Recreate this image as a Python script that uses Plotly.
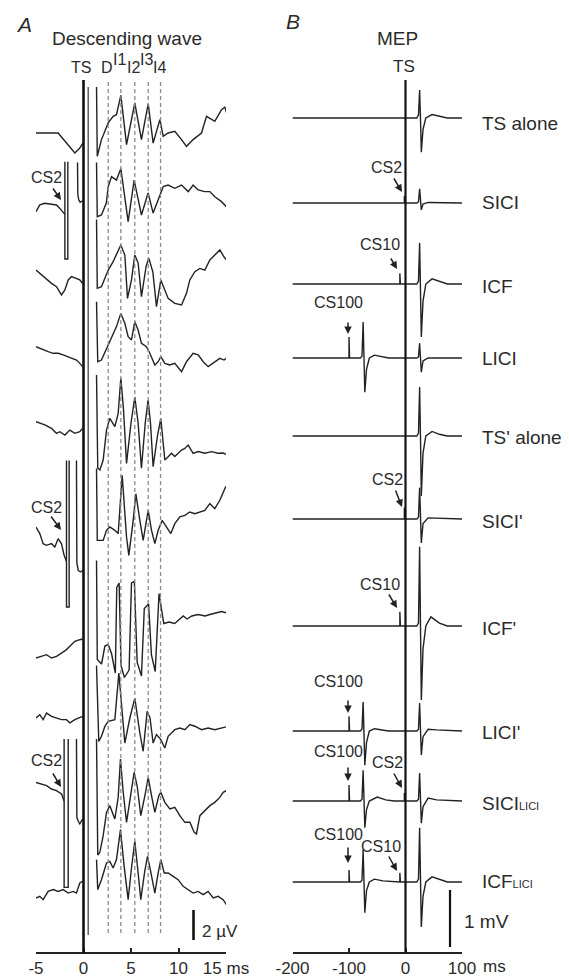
import plotly.graph_objects as go

W, H = 569, 978
OFF = 8          # the page body adds an 8 px margin; layout positions below are page pixels
FONT = "Liberation Sans, Arial, sans-serif"
INK = "#222222"
TXT = "#2b2b2b"

# ---------------- Panel A: descending waves (time in ms, amplitude in µV) ----------------
A1_t = [-5.0, -2.67, -0.91, -0.39, -0.07, None,
        1.37, 1.45, 1.89, 2.6, 3.12, 3.47, 3.93, 4.53, 5.4, 6.1, 6.81, 7.33, 8.04, 8.39, 8.91,
        9.61, 10.32, 10.84, 11.54, 12.42, 12.95, 13.82, 14.53, 14.88, 15.2]
A1_v = [0, 0, -1.33, -1.0, -0.67, None,
        3.07, -1.55, -0.44, 0.67, 1.11, 1.22, 2.51, -0.78, 2.0, -0.44, 1.96, -0.67, 0.89, -0.22, 0,
        0.11, -0.44, -0.89, -0.44, 0, 1.11, 0.78, 1.56, 1.73, 1.07]

A2_t = [-5.0, -4.6, -4.07, -3.37, -2.84, -2.49, -2.14, -1.96, None,
        -1.96, -1.96, -1.65, -1.65, None,
        -0.63, -0.6, -0.5, -0.35, -0.1, None,
        1.37, 1.45, 1.89, 2.4, 2.6, 2.95, 3.47, 3.93, 4.7, 5.33, 6.1, 6.8, 7.33, 7.86, 8.39, 8.91,
        9.61, 10.32, 11.02, 11.54, 12.07, 12.77, 13.3, 13.82, 14.53, 15.2]
A2_v = [0.02, 0.47, 0.58, 0.53, 0.47, 0.24, -0.04, -0.16, None,
        3.35, -3.13, -3.13, 3.35, None,
        3.3, 1.2, 0.8, 0.65, 0.75, None,
        3.3, -0.31, -0.2, 0.6, 1.69, 2.36, 2.13, 2.9, -0.64, 2.13, -0.2, 1.27, -0.07, 0.8, 1.69, 1.8,
        1.58, 1.8, 1.36, 1.8, 1.47, 1.36, 1.36, 1.02, 0.69, 0.24]

A3_t = [-5.0, -4.42, -3.89, -3.37, -2.84, -2.32, -1.96, -1.61, -1.26, -0.91, -0.39, -0.1, None,
        1.37, 1.45, 1.89, 2.6, 3.12, 3.65, 3.93, 4.35, 4.63, 5.05, 5.4, 5.75, 6.1, 6.6, 6.88, 7.3,
        7.68, 8.14, 8.56, 8.91, 9.61, 10.32, 10.84, 11.19, 11.72, 12.25, 12.77, 13.3, 13.82,
        14.35, 14.8, 15.2]
A3_v = [0.13, -0.2, -0.53, -0.76, -0.98, -1.53, -1.2, -0.53, -0.31, -0.42, -0.53, -0.76, None,
        3.5, -1.09, -0.98, 0.13, 0.69, 1.36, 1.8, 1.13, -1.76, -0.53, 1.13, 0.6, -1.64, 0.4, 0.91, 0.0,
        -2.31, -0.53, -1.2, -1.76, -2.09, -2.2, -1.42, -0.53, 0.02, 0.24, 0.13, 0.8, 1.13,
        1.47, 1.0, 0.69]

A4_t = [-5.0, -4.6, -4.25, -3.72, -3.19, -2.67, -2.14, -1.61, -1.09, -0.74, -0.39, -0.1, None,
        1.37, 1.5, 1.89, 2.42, 2.95, 3.47, 3.93, 4.35, 4.7, 5.05, 5.4, 5.75, 6.1, 6.63, 6.98, 7.51,
        7.86, 8.14, 8.56, 9.09, 9.61, 10.32, 10.84, 11.54, 12.07, 12.6, 13.12, 13.82, 14.35, 14.8, 15.2]
A4_v = [0.02, -0.09, -0.2, -0.31, -0.42, -0.42, -0.53, -0.64, -0.76, -0.87, -1.09, -1.31, None,
        3.02, -0.98, -0.87, -0.09, 0.69, 1.36, 2.24, 1.58, 0.69, 0.47, 1.69, 1.13, 0.24, 0.02, -0.42, -1.2,
        -0.98, -0.64, -1.09, -1.2, -1.09, -1.64, -0.98, -0.42, -0.53, -0.98, -1.31, -0.98, -0.76, -0.87, -0.64]

A5_t = [-5.0, -4.07, -3.37, -2.84, -2.49, -1.96, -1.44, -0.91, -0.39, -0.1, None,
        1.37, 1.5, 1.72, 2.07, 2.42, 2.77, 3.3, 3.65, 3.93, 4.2, 4.53, 5.0, 5.4, 5.75, 6.1, 6.5, 6.8,
        7.05, 7.33, 7.8, 8.14, 8.56, 8.91, 9.26, 9.61, 10.32, 10.67, 11.02, 11.54, 12.07, 12.77,
        13.47, 14.17, 14.7, 15.2]
A5_v = [0.09, -0.13, -0.36, -0.69, -0.58, -0.8, -0.47, -0.69, -0.58, -0.36, None,
        3.2, -3.0, -3.13, -2.47, -0.47, 0.31, -0.24, 0.64, 3.0, 1.0, -2.69, 0.0, 1.73, 0.0, -3.02, 0.0, 1.53,
        0.0, -2.91, -0.8, 0.3, -2.47, -2.25, -2.02, -2.24, -1.8, -1.7, -1.47, -2.02, -1.9, -2.02,
        -1.91, -2.02, -2.0, -2.13]

A6_t = [-5.0, -4.6, -4.25, -3.89, -3.37, -3.02, -2.67, -2.32, -2.04, -1.79, None,
        -1.79, -1.79, -1.51, -1.51, None,
        -0.74, -0.7, -0.55, -0.3, -0.1, None,
        1.37, 1.45, 2.07, 2.42, 2.77, 3.3, 3.65, 4.07, 4.53, 4.77, 5.23, 5.51, 5.93, 6.28, 6.81, 7.16,
        7.51, 7.86, 8.28, 8.74, 9.19, 9.61, 10.14, 10.67, 11.19, 11.72, 12.25, 12.77, 13.3, 13.82,
        14.35, 14.7, 14.95, 15.2]
A6_v = [0, -0.44, -1.11, -1.22, -1.11, -1.33, -0.78, -1.11, -1.89, -2.3, None,
        4.44, -5.33, -5.33, 4.44, None,
        4.44, -2.4, -2.9, -3.0, -2.9, None,
        3.9, -0.89, -0.89, -0.22, 0, -0.22, -0.44, 3.44, -0.67, -1.89, 0.44, 2.22, 0.44, -0.89, 1.11, -0.22,
        -1.11, -0.22, 0.44, 0, -0.44, 0.22, 0.67, 0.78, 1.0, 0.89, 1.0, 1.11, 1.56, 1.22,
        1.78, 2.33, 2.67, 2.56]

A7_t = [-5.0, -4.42, -3.89, -3.37, -2.84, -2.32, -1.79, -1.44, -0.91, -0.39, -0.1, None,
        1.37, 1.45, 1.9, 2.25, 2.6, 2.95, 3.35, 3.5, 3.75, 3.95, 4.3, 4.8, 5.05, 5.35, 5.65, 6.1, 6.4,
        6.85, 7.15, 7.55, 7.95, 8.45, 9.0, 9.6, 10.14, 10.5, 10.9, 11.4, 12.07, 12.8, 13.3, 13.82,
        14.53, 15.1]
A7_v = [0, 0.11, 0.22, 0, 0.11, 0.33, 0.56, 0.78, 1.11, 1.22, 1.27, None,
        6.5, -0.1, -0.4, 0.8, 0.9, 0.3, -1.0, 4.7, 5.0, -0.5, -1.3, -0.8, 5.0, 5.1, -0.3, -1.2, 3.3,
        3.6, 0.2, -0.9, 4.3, 2.3, 2.4, 2.3, 2.6, 2.8, 2.6, 2.8, 2.9, 2.8, 2.9, 3.0,
        3.1, 3.0]

A8_t = [-5.0, -4.6, -4.25, -3.89, -3.37, -2.84, -2.32, -1.79, -1.44, -0.91, -0.39, -0.1, None,
        1.37, 1.61, 1.89, 2.25, 2.6, 3.3, 3.72, 4.0, 4.35, 4.88, 5.4, 5.93, 6.28, 6.7, 7.0, 7.33, 7.68,
        8.14, 8.56, 8.91, 9.61, 10.14, 10.67, 11.19, 11.72, 12.42, 13.12, 13.82, 14.53, 15.2]
A8_v = [0, 0.22, -0.11, 0.33, 0.11, 0, -0.11, -0.11, -0.33, -0.11, 0, 0.11, None,
        3.5, -1.56, -1.22, -0.56, -0.22, -0.11, 3.0, 1.0, -1.67, 0, 1.33, -1.0, -2.22, 0.44, 0.0, -1.67, -1.1,
        -1.44, -2.0, -1.22, -0.78, -0.67, -0.78, -0.44, -0.55, -0.78, -0.67, -0.78, -0.67, -0.56]

A9_t = [-5.0, -4.42, -3.89, -3.37, -2.84, -2.32, -2.04, None,
        -2.04, -2.04, -1.61, -1.61, None,
        -0.74, -0.7, -0.5, -0.39, -0.1, None,
        1.37, 1.5, 1.72, 2.07, 2.42, 2.77, 3.3, 3.65, 3.89, 4.18, 4.53, 5.0, 5.33, 5.65, 6.03, 6.53,
        6.81, 7.16, 7.51, 7.93, 8.14, 8.56, 9.09, 9.61, 10.14, 10.67, 11.2, 11.65, 11.89, 12.25,
        12.77, 13.3, 13.82, 14.35, 14.7, 15.05, 15.2]
A9_v = [0.04, -0.07, -0.18, -0.4, -0.51, -0.73, -1.2, None,
        2.93, -6.96, -6.96, 2.93, None,
        2.93, -2.3, -2.62, -2.73, -2.4, None,
        2.93, -4.8, -4.62, -3.51, -1.96, -1.51, -2.4, -0.96, 1.6, -0.62, -2.62, -0.62, 0.71, -0.2, -2.18, -0.62,
        0.38, -0.84, -1.96, -0.84, -0.62, -1.29, -1.73, -1.62, -2.18, -2.62, -2.62, -3.29, -3.4, -2.18,
        -1.84, -1.51, -1.29, -0.96, -0.62, -0.51, 0.27]

A10_t = [-5.0, -4.6, -4.25, -3.72, -3.19, -2.67, -2.14, -1.61, -1.09, -0.74, -0.39, -0.1, None,
         1.37, 1.5, 1.89, 2.42, 2.77, 3.12, 3.47, 3.89, 4.28, 4.7, 5.05, 5.4, 5.75, 6.03, 6.45, 6.74,
         7.1, 7.51, 7.86, 8.14, 8.5, 8.91, 9.44, 9.96, 10.49, 11.02, 11.54, 12.07, 12.6, 13.12,
         13.65, 14.17, 14.7, 15.16]
A10_v = [0, 0.11, -0.11, 0.44, 0.56, 0.44, 0.56, 0.33, 0.44, 0.33, 1.0, 1.11, None,
         2.56, 0.56, 1.22, 2.33, 2.44, 2.0, 2.56, 4.56, 2.11, -0.11, 2.0, 3.78, 1.67, -0.11, 1.8, 2.78,
         1.67, 0.33, 1.67, 2.56, 1.67, 1.67, 1.44, 1.22, 0.78, 0.56, 0.33, 0.44, 0.22, 0.44,
         0, 0.11, -0.11, -0.56]

A_TRACES = [(A1_t, A1_v), (A2_t, A2_v), (A3_t, A3_v), (A4_t, A4_v), (A5_t, A5_v),
            (A6_t, A6_v), (A7_t, A7_v), (A8_t, A8_v), (A9_t, A9_v), (A10_t, A10_v)]
A_ROWS_PX = [133, 212, 272, 347, 423, 527, 658, 718, 783, 898]   # layout: baseline row of each trace
A_WAVE_TIMES = [2.6, 3.93, 5.4, 6.81, 8.11]                       # D, I1, I2, I3, I4 latencies (ms)
A_WAVE_LABELS = ["D", "I1", "I2", "I3", "I4"]
A_TICKS = [-5, 0, 5, 10, 15]
A_TICKTEXT = ["-5", "0", "5", "10", "15 ms"]

# ---------------- Panel B: MEPs (time in ms, amplitude in mV) ----------------
B1_t = [-200, 20, 23, 25, 26.5, 28, 31, 36, 47, 60, 74, 100]
B1_v = [0, 0, 0.05, 0.49, 0.0, -0.6, -0.2, 0.0, 0.06, 0.03, 0, 0]
B2_t = [-200, -2, -2, -1, 20, 23, 25, 26.5, 28, 31, 40, 100]
B2_v = [0, 0, 0.12, 0, 0, 0.02, 0.25, 0, -0.12, -0.02, 0.01, 0]
B3_t = [-200, -10, -10, -9, 20, 23, 25, 26.5, 28, 31, 36, 47, 60, 74, 100]
B3_v = [0, 0, 0.19, 0, 0, 0.05, 0.72, 0, -0.93, -0.3, 0, 0.09, 0.04, 0, 0]
B4_t = [-200, -100, -100, -99, -80, -77, -75, -73.5, -72, -69, -64, -55, -40, -30,
        20, 23, 25, 26.5, 28, 31, 40, 100]
B4_v = [0, 0, 0.37, 0, 0, 0.03, 0.63, 0, -0.6, -0.2, 0, 0.05, 0.02, 0,
        0, 0.02, 0.26, 0, -0.25, -0.05, 0, 0]
B5_t = [-200, 20, 23, 25, 26.5, 28, 31, 36, 47, 60, 74, 100]
B5_v = [0, 0, 0.05, 0.86, 0, -1.05, -0.3, 0, 0.08, 0.03, 0, 0]
B6_t = [-200, -2, -2, -1, 20, 23, 25, 26.5, 28, 31, 40, 100]
B6_v = [0, 0, 0.2, 0, 0, 0.03, 0.55, 0, -0.42, -0.08, 0.02, 0]
B7_t = [-200, -10, -10, -9, 20, 23, 25, 26.5, 28, 31, 36, 45, 60, 74, 100]
B7_v = [0, 0, 0.25, 0, 0, 0.05, 1.39, 0, -1.3, -0.4, 0, 0.16, 0.05, 0, 0]
B8_t = [-200, -100, -100, -99, -80, -77, -75, -73.5, -72, -69, -64, -55, -40, -30,
        20, 23, 25, 26.5, 28, 31, 40, 55, 100]
B8_v = [0, 0, 0.26, 0, 0, 0.03, 0.51, 0, -0.6, -0.2, 0, 0.04, 0.02, 0,
        0, 0.03, 0.49, 0, -0.42, -0.1, 0.03, 0.02, 0]
B9_t = [-200, -100, -100, -99, -80, -77, -75, -73.5, -72, -69, -64, -50, -35, -20, -2, -2, -1,
        20, 23, 25, 26.5, 28, 31, 40, 55, 100]
B9_v = [0, 0, 0.28, 0, 0, 0.03, 0.54, 0, -0.47, -0.15, 0, 0.07, 0.02, 0, 0, 0.14, 0,
        0, 0.03, 0.49, 0, -0.39, -0.1, 0.05, 0.02, 0]
B10_t = [-200, -100, -100, -99, -80, -77, -75, -73.5, -72, -69, -64, -55, -40, -10, -10, -9,
         20, 23, 25, 26.5, 28, 31, 36, 47, 60, 74, 100]
B10_v = [0, 0, 0.21, 0, 0, 0.03, 0.56, 0, -0.54, -0.15, 0, 0.05, 0.02, 0, 0.16, 0,
         0, 0.05, 0.95, 0, -0.79, -0.25, 0, 0.09, 0.04, 0, 0]

B_TRACES = [(B1_t, B1_v), (B2_t, B2_v), (B3_t, B3_v), (B4_t, B4_v), (B5_t, B5_v),
            (B6_t, B6_v), (B7_t, B7_v), (B8_t, B8_v), (B9_t, B9_v), (B10_t, B10_v)]
B_ROWS_PX = [118, 203, 284, 358, 436, 519, 626, 731, 801, 882]
SUB = "<span style='font-size:11px'>LICI</span>"
B_LABELS = ["TS alone", "SICI", "ICF", "LICI", "TS' alone", "SICI'", "ICF'", "LICI'",
            "SICI" + SUB, "ICF" + SUB]
B_LABEL_PX = [123, 203, 286, 359, 437, 521, 628, 732, 803, 881]
B_TICKS = [-200, -100, 0, 100]
B_TICKTEXT = ["-200", "-100", "0", "100"]

# ---------------- scales (layout) ----------------
A_PX_PER_UV = 15.0
B_PX_PER_MV = 57.0


def px_x(p):          # page pixel -> paper fraction (x)
    return (p - OFF) / W


def px_y(p):          # page pixel -> paper fraction (y)
    return 1 - (p - OFF) / H


def shift(vals, row_px, scale):
    base = -(row_px - OFF) / scale
    return [None if v is None else base + v for v in vals]


fig = go.Figure()
for (t, v), row in zip(A_TRACES, A_ROWS_PX):
    fig.add_trace(go.Scatter(x=t, y=shift(v, row, A_PX_PER_UV), mode="lines",
                             line=dict(color=INK, width=1.4), connectgaps=False,
                             xaxis="x", yaxis="y", showlegend=False, hoverinfo="skip"))
for (t, v), row in zip(B_TRACES, B_ROWS_PX):
    fig.add_trace(go.Scatter(x=t, y=shift(v, row, B_PX_PER_MV), mode="lines",
                             line=dict(color=INK, width=1.4), connectgaps=False,
                             xaxis="x2", yaxis="y2", showlegend=False, hoverinfo="skip"))

shapes = []
shapes.append(dict(type="line", xref="x", yref="paper", x0=0, x1=0, y0=px_y(953), y1=px_y(80),
                   line=dict(color="#111", width=2.6)))
shapes.append(dict(type="line", xref="x", yref="paper", x0=0.5, x1=0.5, y0=px_y(935), y1=px_y(87),
                   line=dict(color="#666", width=1.6)))
shapes.append(dict(type="line", xref="x2", yref="paper", x0=0, x1=0, y0=px_y(953), y1=px_y(80),
                   line=dict(color="#111", width=2.2)))
for xt in A_WAVE_TIMES:
    shapes.append(dict(type="line", xref="x", yref="paper", x0=xt, x1=xt, y0=px_y(933), y1=px_y(80),
                       line=dict(color="#8a8a8a", width=1.3, dash="4px,3px")))
bar_a_base = -(940 - OFF) / A_PX_PER_UV
shapes.append(dict(type="line", xref="x", yref="y", x0=11.58, x1=11.58, y0=bar_a_base,
                   y1=bar_a_base + 2, line=dict(color="#111", width=2.6)))
bar_b_base = -(947 - OFF) / B_PX_PER_MV
shapes.append(dict(type="line", xref="x2", yref="y2", x0=78.8, x1=78.8, y0=bar_b_base,
                   y1=bar_b_base + 1, line=dict(color="#111", width=2.2)))

anns = []


def text(s, x, y, size=16, xanchor="center"):
    anns.append(dict(text=s, x=px_x(x), y=px_y(y), xref="paper", yref="paper", showarrow=False,
                     xanchor=xanchor, yanchor="middle",
                     font=dict(family=FONT, size=size, color=TXT)))


def arrow(x0, y0, x1, y1):
    anns.append(dict(text="", x=px_x(x1), y=px_y(y1), xref="paper", yref="paper",
                     ax=x0 - x1, ay=y0 - y1, axref="pixel", ayref="pixel",
                     showarrow=True, arrowhead=2, arrowsize=1.0, arrowwidth=1.5,
                     arrowcolor=INK, standoff=0, startstandoff=0))


# Panel A texts
text("<i>A</i>", 24, 24, size=21)
text("Descending wave", 127, 38, size=19)
text("TS", 81, 68, size=16)
for lab, xt in zip(A_WAVE_LABELS, A_WAVE_TIMES):
    ypos = 60 if lab in ("I1", "I3") else 68
    text(lab, 82 + xt * 9.5, ypos, size=16)
for (tx, ty), (a0, a1, b0, b1) in zip([(46, 177), (46, 507), (46, 760)],
                                      [(52, 187, 61, 200), (50, 515, 61, 530), (52, 772, 61, 787)]):
    text("CS2", tx, ty, size=16)
    arrow(a0, a1, b0, b1)
text("2 µV", 200, 931, size=17, xanchor="left")

# Panel B texts
text("<i>B</i>", 293, 22, size=21)
text("MEP", 397, 38, size=19)
text("TS", 404, 67, size=17)
for lab, ly in zip(B_LABELS, B_LABEL_PX):
    text(lab, 480, ly, size=19, xanchor="left")
cs_b = [("CS2", 386, 168, (393, 177, 402, 192)),
        ("CS10", 380, 245, (390, 257, 397, 269)),
        ("CS100", 338, 302, (348, 321, 348, 334)),
        ("CS2", 387, 479, (395, 489, 402, 507)),
        ("CS10", 380, 584, (388, 593, 397, 608)),
        ("CS100", 338, 681, (348, 699, 348, 713)),
        ("CS100", 338, 751, (348, 766, 348, 781)),
        ("CS2", 387, 762, (393, 772, 402, 788)),
        ("CS100", 338, 834, (348, 846, 348, 863)),
        ("CS10", 381, 846, (388, 855, 397, 871))]
for s, tx, ty, (a0, a1, b0, b1) in cs_b:
    text(s, tx, ty, size=16)
    arrow(a0, a1, b0, b1)
text("1 mV", 462, 921, size=19, xanchor="left")
text("ms", 494, 966, size=17)

axis_common = dict(anchor="free", position=px_y(953), showline=True, linewidth=2, linecolor="#222",
                   ticks="inside", ticklen=4, tickwidth=2, tickcolor="#222", showgrid=False,
                   zeroline=False, tickfont=dict(family=FONT, size=17, color=TXT),
                   ticklabelstandoff=0, automargin=False, fixedrange=True)

fig.update_layout(
    width=W, height=H, autosize=False,
    margin=dict(l=0, r=0, t=0, b=0, pad=0, autoexpand=False),
    paper_bgcolor="white", plot_bgcolor="rgba(0,0,0,0)",
    xaxis=dict(domain=[px_x(36), px_x(226)], range=[-5, 15], tickmode="array",
               tickvals=A_TICKS, ticktext=A_TICKTEXT, **axis_common),
    yaxis=dict(domain=[0, 1], range=[-H / A_PX_PER_UV, 0], visible=False, fixedrange=True),
    xaxis2=dict(domain=[px_x(292.5), px_x(462)], range=[-200, 100], tickmode="array",
                tickvals=B_TICKS, ticktext=B_TICKTEXT, **axis_common),
    yaxis2=dict(domain=[0, 1], range=[-H / B_PX_PER_MV, 0], visible=False, anchor="x2",
                fixedrange=True),
    shapes=shapes, annotations=anns, showlegend=False,
)

fig.write_html("out.html")
